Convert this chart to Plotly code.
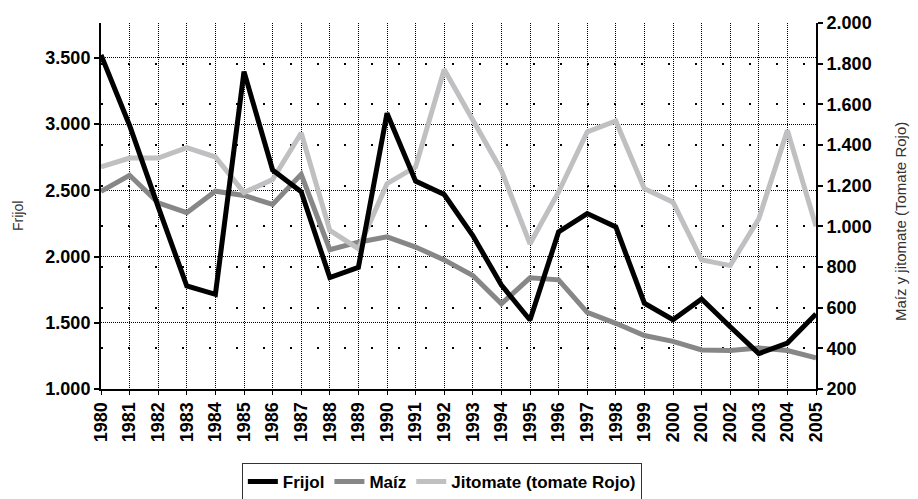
import plotly.graph_objects as go

years = list(range(1980, 2006))
frijol = [3523, 2990, 2375, 1778, 1715, 3397, 2654, 2490, 1841, 1919,
          3082, 2570, 2469, 2159, 1785, 1521, 2186, 2325, 2224, 1648,
          1523, 1680, 1470, 1267, 1347, 1566]
maiz = [1172, 1251, 1116, 1067, 1173, 1152, 1108, 1256, 885, 922,
        948, 898, 835, 758, 619, 747, 737, 577, 523, 463,
        434, 392, 389, 402, 389, 353]
jitomate = [1292, 1336, 1336, 1387, 1341, 1166, 1230, 1459, 980, 890,
            1210, 1292, 1771, 1522, 1275, 914, 1169, 1464, 1518, 1185,
            1119, 835, 807, 1037, 1472, 1000]
year_labels = [str(y) for y in years]
left_ticks = [1000, 1500, 2000, 2500, 3000, 3500]
right_ticks = [200, 400, 600, 800, 1000, 1200, 1400, 1600, 1800, 2000]

BOLD = "Liberation Sans, Arial, sans-serif"
NARROW = "Liberation Sans Narrow, Liberation Sans, Arial, sans-serif"

fig = go.Figure()
fig.add_trace(go.Scatter(x=years, y=frijol, name="Frijol", mode="lines",
                         line=dict(color="#000000", width=5), yaxis="y2"))
fig.add_trace(go.Scatter(x=years, y=maiz, name="Maíz", mode="lines",
                         line=dict(color="#878787", width=5), yaxis="y"))
fig.add_trace(go.Scatter(x=years, y=jitomate, name="Jitomate (tomate Rojo)", mode="lines",
                         line=dict(color="#c0c0c2", width=5), yaxis="y"))

tickfont = dict(family=BOLD, size=18, weight="bold", color="#000000")

fig.update_layout(
    width=910, height=491,
    margin=dict(l=93, r=102, t=15, b=110, autoexpand=False),
    paper_bgcolor="white", plot_bgcolor="white",
    separators=",.",
    font=dict(family=BOLD, size=17, color="#000000"),
    showlegend=True,
    legend=dict(orientation="h", xref="paper", x=0.197, xanchor="left",
                yref="container", y=0.0733, yanchor="top",
                bordercolor="#333333", borderwidth=1, bgcolor="white",
                font=dict(family=BOLD, size=17, color="#000000", weight="bold"),
                traceorder="normal"),
    xaxis=dict(range=[1980, 2005], tickmode="array", tickvals=years, ticktext=year_labels,
               tickangle=-90, showline=True, linecolor="#000000", linewidth=2,
               ticks="outside", ticklen=4, tickwidth=1, tickcolor="#000000",
               showgrid=True, gridcolor="#000000", gridwidth=1, griddash="1px,1px",
               zeroline=False, automargin=False, tickfont=tickfont),
    yaxis=dict(side="right", range=[200, 2000], tickmode="array", tickvals=right_ticks,
               tickformat=",.0f", showline=True, linecolor="#000000", linewidth=2,
               ticks="outside", ticklen=5, tickwidth=2, tickcolor="#000000",
               showgrid=True, gridcolor="#000000", gridwidth=1.5, griddash="2px,25px",
               zeroline=False, automargin=False, tickfont=tickfont),
    yaxis2=dict(side="left", overlaying="y", range=[1000, 3764], tickmode="array",
                tickvals=left_ticks, tickformat=",.0f", showline=True,
                linecolor="#000000", linewidth=2,
                ticks="outside", ticklen=5, tickwidth=2, tickcolor="#000000",
                showgrid=True, gridcolor="#000000", gridwidth=1, griddash="1px,1px",
                zeroline=False, automargin=False, tickfont=tickfont),
    annotations=[
        dict(text="Frijol", xref="paper", yref="paper",
             x=(18 - 101) / 715, y=(389 - 216) / 366, xanchor="center", yanchor="middle",
             textangle=-90, showarrow=False,
             font=dict(family=NARROW, size=14, color="#333333")),
        dict(text="Maíz y jitomate (Tomate Rojo)", xref="paper", yref="paper",
             x=(900 - 101) / 715, y=(389 - 222) / 366, xanchor="center", yanchor="middle",
             textangle=-90, showarrow=False,
             font=dict(family=NARROW, size=15, color="#333333")),
    ],
)

fig.write_html("out.html")
